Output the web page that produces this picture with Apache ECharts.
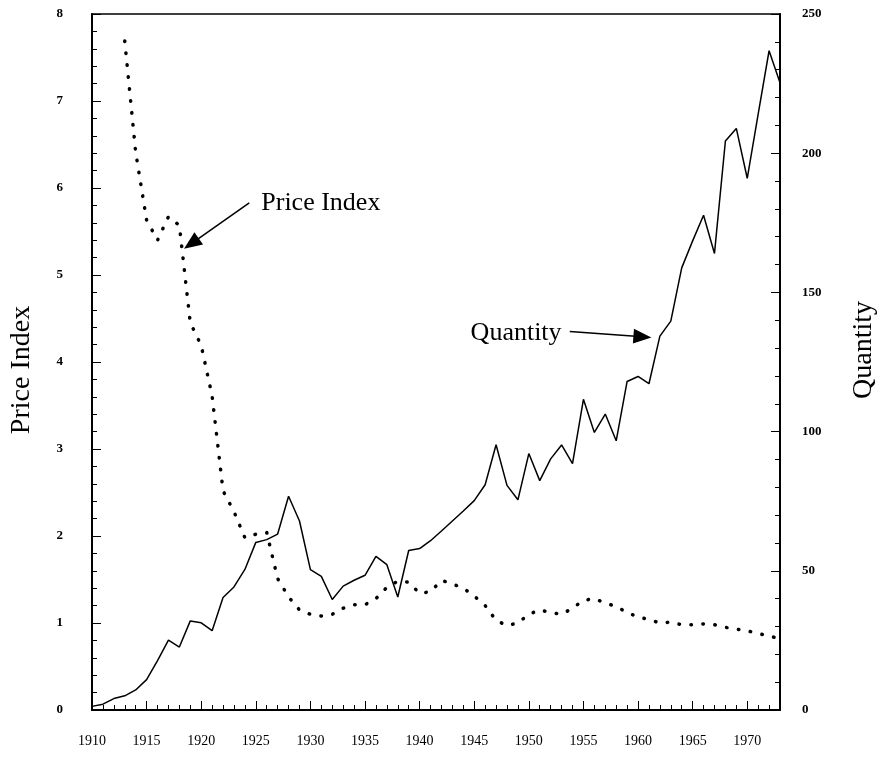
<!DOCTYPE html>
<html style="height:100%;">
<head>
	<meta charset="utf-8" />
	<title>Price Index and Quantity</title>
	<script type="text/javascript" src="https://cdn.jsdelivr.net/npm/echarts@6/dist/echarts.min.js"></script>
</head>
<body style="margin:0;padding:0;height:100%;background:#fff;">
	<div id="chart" style="width:886px;height:758px;"></div>
	<script type="text/javascript">
		// quantity, one value per year 1910-1973
		const qtyYears = [];
		for (let y = 1910; y <= 1973; y++) qtyYears.push(y);
		const quantity = [
			1.3, 2.1, 4.1, 5.1, 7.2, 10.9, 17.7, 25.1, 22.6, 32.0,
			31.3, 28.5, 40.4, 44.2, 50.5, 60.2, 61.2, 63.2, 76.8, 67.9,
			50.4, 48.0, 39.7, 44.5, 46.6, 48.4, 55.2, 52.2, 40.6, 57.3,
			58.0, 60.8, 64.3, 67.9, 71.5, 75.2, 80.9, 95.3, 80.7, 75.5,
			92.1, 82.4, 90.2, 95.2, 88.5, 111.6, 99.7, 106.3, 96.7, 118.0,
			119.8, 117.2, 134.3, 139.7, 158.8, 168.5, 177.7, 164.0, 204.4, 208.9,
			191.0, 214.0, 236.8, 225.3
		];

		// price index, one value per year 1913-1973 (left axis)
		const priceYears = [];
		for (let y = 1913; y <= 1973; y++) priceYears.push(y);
		const priceIndex = [
			7.69, 6.41, 5.63, 5.40, 5.67, 5.57, 4.45,
			4.19, 3.61, 2.52, 2.28, 1.98, 2.02, 2.04, 1.51, 1.30, 1.15,
			1.10, 1.08, 1.10, 1.17, 1.21, 1.21, 1.28, 1.41, 1.48, 1.47,
			1.34, 1.36, 1.49, 1.45, 1.40, 1.31, 1.20, 1.03, 0.97, 1.00,
			1.10, 1.15, 1.12, 1.10, 1.17, 1.26, 1.28, 1.23, 1.19, 1.12,
			1.07, 1.04, 1.00, 1.01, 0.98, 0.98, 0.99, 0.98, 0.95, 0.93,
			0.91, 0.88, 0.85, 0.82
		];

		// annotation anchors, in data units (year, price index)
		const priceNote = { text: "Price Index", at: [1925.5, 5.83], from: [1924.4, 5.83], to: [1919.1, 5.36] };
		const qtyNote = { text: "Quantity", at: [1953.0, 4.33], from: [1953.75, 4.35], to: [1960.4, 4.29] };

		const serif = "'Liberation Serif', 'DejaVu Serif', serif";
		const black = "#000";

		const chart = echarts.init(document.getElementById("chart"));
		const opt = {
			animation: false,
			backgroundColor: "#fff",
			grid: {
				left: 86, right: 101, top: 14, bottom: 48,
				show: true, borderColor: black, borderWidth: 1.5
			},
			xAxis: [{
				type: "value",
				min: 1910, max: 1973, interval: 5,
				axisLine: { show: true, lineStyle: { color: black, width: 2 } },
				axisTick: { show: true, inside: true, length: 9, lineStyle: { color: black, width: 1 } },
				axisLabel: {
					margin: 24, color: black, fontFamily: serif, fontSize: 14,
					formatter: function (v) { return v % 5 === 0 ? String(v) : ""; }
				},
				splitLine: { show: false }
			}, {
				// yearly minor ticks
				type: "value",
				position: "bottom",
				min: 1910, max: 1973, interval: 1,
				axisLine: { show: false },
				axisTick: { show: true, inside: true, length: 5, lineStyle: { color: black, width: 1 } },
				axisLabel: { show: false },
				splitLine: { show: false }
			}],
			yAxis: [{
				type: "value",
				min: 0, max: 8, interval: 1,
				name: "Price Index",
				nameLocation: "middle",
				nameRotate: 90,
				nameGap: 56,
				nameTextStyle: { color: black, fontFamily: serif, fontSize: 28, padding: [0, 16, 0, 0] },
				axisLine: { show: true, lineStyle: { color: black, width: 2 } },
				axisTick: { show: true, inside: true, length: 9, lineStyle: { color: black } },
				minorTick: { show: true, splitNumber: 5, length: 5, lineStyle: { color: black } },
				axisLabel: { margin: 29, color: black, fontFamily: serif, fontSize: 13, fontWeight: "bold" },
				splitLine: { show: false }
			}, {
				type: "value",
				position: "right",
				min: 0, max: 250, interval: 50,
				name: "Quantity",
				nameLocation: "middle",
				nameRotate: 90,
				nameGap: 70,
				nameTextStyle: { color: black, fontFamily: serif, fontSize: 28, padding: [0, 0, 0, 24] },
				axisLine: { show: true, lineStyle: { color: black, width: 2 } },
				axisTick: { show: true, inside: true, length: 9, lineStyle: { color: black } },
				minorTick: { show: true, splitNumber: 5, length: 5, lineStyle: { color: black } },
				axisLabel: { margin: 22, color: black, fontFamily: serif, fontSize: 13, fontWeight: "bold" },
				splitLine: { show: false }
			}],
			series: [{
				name: "Price Index",
				type: "line",
				xAxisIndex: 0,
				yAxisIndex: 0,
				data: priceYears.map((y, i) => [y, priceIndex[i]]),
				showSymbol: false,
				lineStyle: { color: black, width: 3.5, type: [0.5, 11.5], cap: "round" },
				markLine: {
					silent: true,
					symbol: ["none", "triangle"],
					symbolSize: [15, 18],
					lineStyle: { color: black, width: 1.5, type: "solid" },
					label: { show: false },
					data: [
						[{ coord: priceNote.from }, { coord: priceNote.to }],
						[{ coord: qtyNote.from }, { coord: qtyNote.to }]
					]
				},
				markPoint: {
					silent: true,
					symbol: "circle",
					symbolSize: 0,
					label: { show: true, color: black, fontFamily: serif, fontSize: 26, distance: 0 },
					data: [
						{ coord: priceNote.at, value: priceNote.text, label: { position: "right", formatter: priceNote.text } },
						{ coord: qtyNote.at, value: qtyNote.text, label: { position: "left", formatter: qtyNote.text } }
					]
				}
			}, {
				name: "Quantity",
				type: "line",
				xAxisIndex: 0,
				yAxisIndex: 1,
				data: qtyYears.map((y, i) => [y, quantity[i]]),
				showSymbol: false,
				lineStyle: { color: black, width: 1.5 }
			}]
		};
		chart.setOption(opt);
	</script>
</body>
</html>
